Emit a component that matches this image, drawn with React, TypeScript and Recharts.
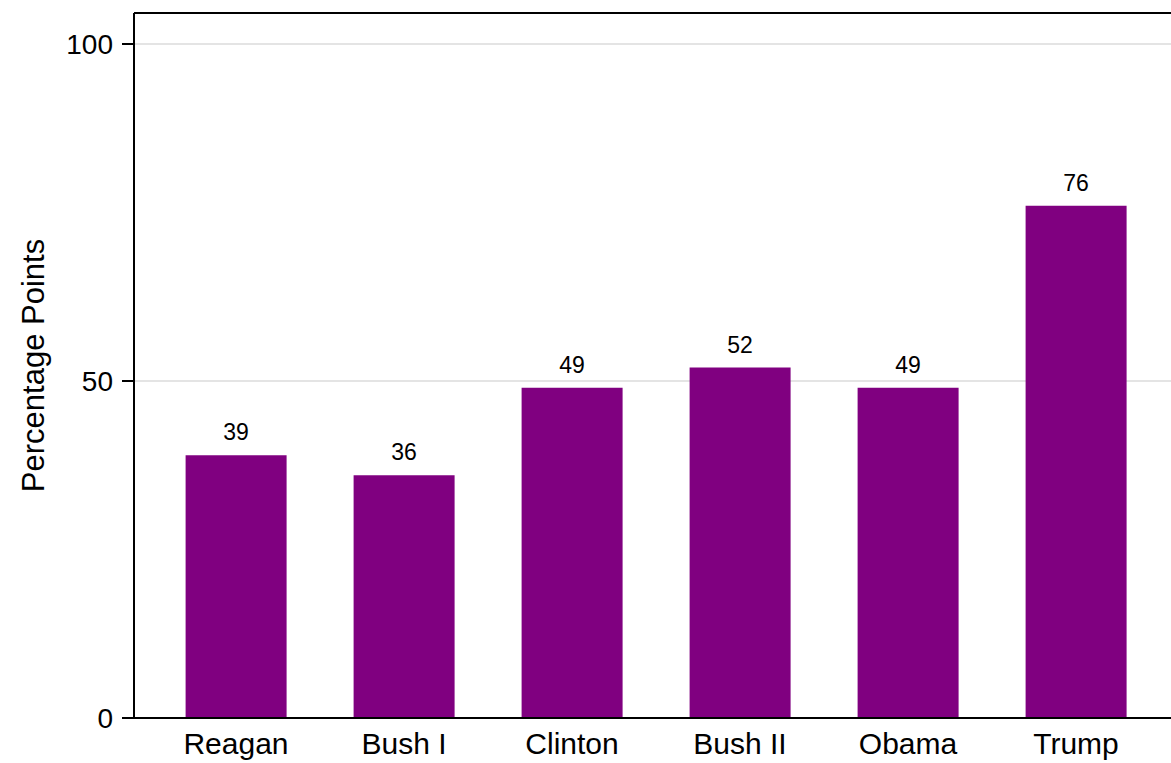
import { Bar, BarChart, CartesianGrid, LabelList, ReferenceLine, XAxis, YAxis } from "recharts";

const presidents = ["Reagan", "Bush I", "Clinton", "Bush II", "Obama", "Trump"];
const points = [39, 36, 49, 52, 49, 76];
const yTicks = [0, 50, 100];
const yMax = 104.6;

const data = presidents.map((name, i) => ({ name, value: points[i] }));

const font = "'Liberation Sans', Arial, Helvetica, sans-serif";

export default function App() {
  return (
    <div style={{ position: "absolute", left: 0, top: 0, fontFamily: font }}>
      <BarChart
        width={1171}
        height={763}
        data={data}
        margin={{ top: 13, right: 0, left: 0, bottom: 0 }}
        barCategoryGap="20%"
      >
        <CartesianGrid vertical={false} stroke="#e4e4e4" strokeWidth={2} />
        <XAxis
          dataKey="name"
          height={45}
          padding={{ left: 18, right: 11 }}
          axisLine={{ stroke: "#000", strokeWidth: 2 }}
          tickLine={false}
          tickSize={0}
          tickMargin={15}
          tick={{ fill: "#000", fontSize: 30, fontFamily: font }}
          interval={0}
        />
        <YAxis
          width={134}
          domain={[0, yMax]}
          ticks={yTicks}
          axisLine={{ stroke: "#000", strokeWidth: 2 }}
          tickLine={{ stroke: "#000", strokeWidth: 2 }}
          tickSize={12}
          tickMargin={9}
          tick={{ fill: "#000", fontSize: 28, fontFamily: font }}
          label={{
            value: "Percentage Points",
            angle: -90,
            position: "insideLeft",
            offset: 33,
            style: { textAnchor: "middle", fill: "#000", fontSize: 31, fontFamily: font },
          }}
        />
        <ReferenceLine y={yMax} stroke="#000" strokeWidth={2} />
        <Bar dataKey="value" fill="#800080" isAnimationActive={false}>
          <LabelList
            dataKey="value"
            position="top"
            offset={15}
            style={{ fill: "#000", fontSize: 23, fontFamily: font }}
          />
        </Bar>
      </BarChart>
    </div>
  );
}
